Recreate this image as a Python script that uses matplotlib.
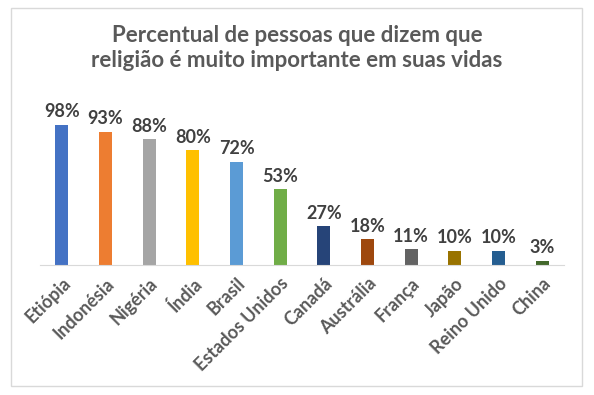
import matplotlib

matplotlib.use("Agg")
import matplotlib.pyplot as plt
from matplotlib.patches import Rectangle

countries = ["Etiópia", "Indonésia", "Nigéria", "Índia", "Brasil", "Estados Unidos",
             "Canadá", "Austrália", "França", "Japão", "Reino Unido", "China"]
values = [98, 93, 88, 80, 72, 53, 27, 18, 11, 10, 10, 3]
colors = ["#4472C4", "#ED7D31", "#A5A5A5", "#FFC000", "#5B9BD5", "#70AD47",
          "#264478", "#9E480E", "#636363", "#997300", "#255E91", "#43682B"]
title = "Percentual de pessoas que dizem que\nreligião é muito importante em suas vidas"

plt.rcParams["font.family"] = ["Lato", "DejaVu Sans"]
TEXT = "#595959"

fig = plt.figure(figsize=(5.94, 3.95), dpi=100)
fig.patches.append(Rectangle((11 / 594, 1 - 386 / 395), 571 / 594, 378 / 395,
                             transform=fig.transFigure, fill=False,
                             edgecolor="#D9D9D9", lw=1))
ax = fig.add_axes([40 / 594, 1 - 265 / 395, 524 / 594, 172 / 395])

x = range(len(countries))
ax.bar(x, values, width=0.3, color=colors)
for i, v in zip(x, values):
    ax.text(i, v + 3, f"{v}%", ha="center", va="bottom", fontsize=13,
            fontweight="bold", color="#404040")

ax.set_xlim(-0.5, len(countries) - 0.5)
ax.set_ylim(0, 120)
ax.set_yticks([])
ax.set_xticks(list(x))
ax.set_xticklabels(countries, rotation=45, ha="right", rotation_mode="anchor",
                   fontsize=13, fontweight="bold", color=TEXT)
ax.tick_params(axis="x", length=0, pad=7)
for s in ["top", "right", "left"]:
    ax.spines[s].set_visible(False)
ax.spines["bottom"].set_color("#D9D9D9")

fig.text(0.5, 1 - 48 / 395, title, ha="center", va="center", fontsize=16,
         fontweight="bold", color=TEXT, linespacing=1.25)

fig.savefig("out.png", dpi=100)
